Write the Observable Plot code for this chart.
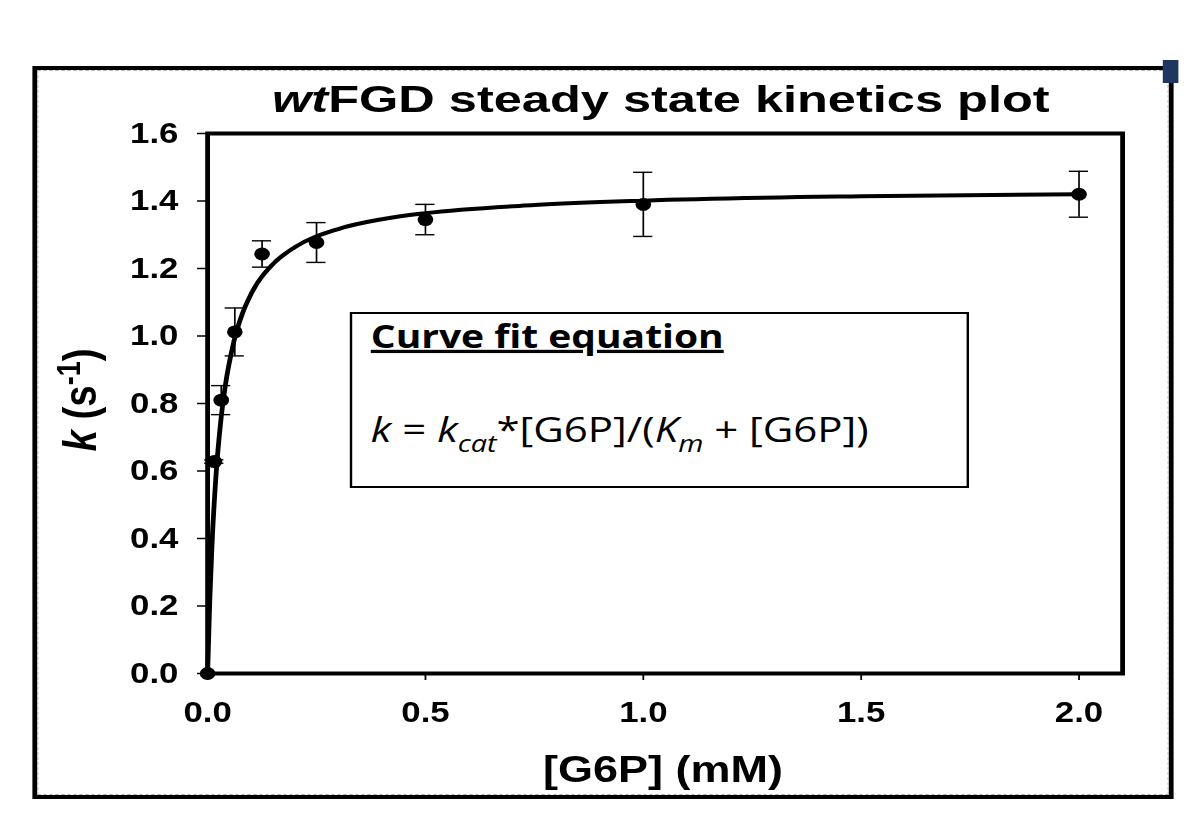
<!DOCTYPE html>
<html>
<head>
<meta charset="utf-8">
<script src="https://cdn.jsdelivr.net/npm/d3@7"></script>
<script src="https://cdn.jsdelivr.net/npm/@observablehq/plot@0.6"></script>
<style>
  html, body { margin: 0; padding: 0; background: #fff; overflow: hidden; }
  #stage { position: relative; width: 1000px; height: 832px; transform: scaleX(1.2); transform-origin: 0 0; }
  #frame { position: absolute; left: 26.7px; top: 66px; width: 951.6px; height: 733px; box-sizing: border-box; border: 4px solid #000; }
  #frame::after { content: ""; position: absolute; left: 0; top: 0; right: 0; bottom: 0; border: 1px dashed #b5b5b5; }
  #navy { position: absolute; left: 969px; top: 60px; width: 12.5px; height: 23px; background: #1f3760; }
  #plot { position: absolute; left: 0; top: 0; }
  #overlay { position: absolute; left: 0; top: 0; pointer-events: none; }
</style>
</head>
<body>
<div id="stage">
  <div id="frame"></div>
  <div id="navy"></div>
  <div id="plot"></div>
  <svg id="overlay" width="1000" height="832" xmlns="http://www.w3.org/2000/svg"></svg>
</div>
<script>
// Measured data points: [G6P] (mM), k (s^-1), error
const conc = [0, 0.0156, 0.0313, 0.0625, 0.125, 0.25, 0.5, 1.0, 2.0];
const rate = [0, 0.628, 0.81, 1.012, 1.243, 1.277, 1.345, 1.39, 1.42];
const err  = [0, 0.005, 0.043, 0.071, 0.039, 0.059, 0.045, 0.095, 0.068];

// Fitted curve
const fitX = [0, 0.005, 0.01, 0.02, 0.03, 0.04, 0.06, 0.08, 0.1, 0.15, 0.2, 0.3, 0.4, 0.5, 0.75, 1.0, 1.5, 2.0];
const fitY = [0, 0.218, 0.379, 0.60, 0.745, 0.847, 0.982, 1.067, 1.125, 1.213, 1.263, 1.317, 1.346, 1.364, 1.388, 1.401, 1.414, 1.420];

const xTicks = [0, 0.5, 1.0, 1.5, 2.0];
const yTicks = [0, 0.2, 0.4, 0.6, 0.8, 1.0, 1.2, 1.4, 1.6];

const points = conc.map((x, i) => ({x, y: rate[i], e: err[i]}));
const bars = points.filter(d => d.e > 0);
const fit = fitX.map((x, i) => ({x, y: fitY[i]}));

const plot = Plot.plot({
  width: 1000,
  height: 832,
  marginLeft: 172.5,
  marginRight: 65,
  marginTop: 133,
  marginBottom: 159,
  style: { fontFamily: "'Liberation Sans', Arial, sans-serif", fontSize: "29px", fontWeight: "bold", background: "transparent", color: "#000" },
  x: { domain: [0, 2.1] },
  y: { domain: [0, 1.6] },
  marks: [
    Plot.axisX({ ticks: xTicks, tickFormat: d3.format(".1f"), tickSize: 7, tickPadding: 21, label: null, strokeWidth: 1.5, fontSize: 29 }),
    Plot.axisY({ ticks: yTicks, tickFormat: d3.format(".1f"), tickSize: 8.3, tickPadding: 16, label: null, strokeWidth: 1.5, fontSize: 29 }),
    Plot.ruleX(bars, { x: "x", y1: d => d.y - d.e, y2: d => d.y + d.e, stroke: "#000", strokeWidth: 1.4 }),
    Plot.ruleY(bars, { y: d => d.y - d.e, x1: "x", x2: "x", insetLeft: -8, insetRight: -8, stroke: "#000", strokeWidth: 1.4 }),
    Plot.ruleY(bars, { y: d => d.y + d.e, x1: "x", x2: "x", insetLeft: -8, insetRight: -8, stroke: "#000", strokeWidth: 1.4 }),
    Plot.line(fit, { x: "x", y: "y", curve: "monotone-x", stroke: "#000", strokeWidth: 4 }),
    Plot.dot(points, { x: "x", y: "y", r: 6.5, fill: "#000", stroke: "none" }),
    Plot.frame({ stroke: "#000", strokeWidth: 4 })
  ]
});
document.getElementById("plot").appendChild(plot);

// Annotations: title, axis labels, equation box
const ov = d3.select("#overlay");
const bold = "'Liberation Sans', Arial, sans-serif";

const title = ov.append("text").attr("x", 226.7).attr("y", 112)
  .attr("font-family", bold).attr("font-weight", "bold").attr("font-size", 37.5)
  .attr("textLength", 648).attr("lengthAdjust", "spacingAndGlyphs");
title.append("tspan").attr("font-style", "italic").text("wt");
title.append("tspan").text("FGD steady state kinetics plot");

ov.append("text").attr("x", 552.5).attr("y", 782).attr("text-anchor", "middle")
  .attr("font-family", bold).attr("font-weight", "bold").attr("font-size", 37.5)
  .text("[G6P] (mM)");

const yl = ov.append("text").attr("transform", "translate(80,400) rotate(-90)").attr("text-anchor", "middle")
  .attr("font-family", bold).attr("font-weight", "bold").attr("font-size", 38.5);
yl.append("tspan").attr("font-style", "italic").text("k");
yl.append("tspan").text(" (s");
yl.append("tspan").attr("font-size", 27).attr("dy", -13).text("-1");
yl.append("tspan").attr("dy", 13).text(")");

ov.append("rect").attr("x", 292.5).attr("y", 313).attr("width", 514).attr("height", 174)
  .attr("fill", "#fff").attr("stroke", "#000").attr("stroke-width", 2);

const sans = "'Open Sans', 'Noto Sans', sans-serif";
ov.append("text").attr("x", 309).attr("y", 348)
  .attr("font-family", sans).attr("font-weight", "bold").attr("font-size", 32.5)
  .attr("text-decoration", "underline").text("Curve fit equation");

const eq = ov.append("text").attr("x", 309).attr("y", 442)
  .attr("font-family", sans).attr("font-size", 35);
eq.append("tspan").attr("font-style", "italic").text("k");
eq.append("tspan").text(" = ");
eq.append("tspan").attr("font-style", "italic").text("k");
eq.append("tspan").attr("font-style", "italic").attr("font-size", 24).attr("dy", 10).text("cat");
eq.append("tspan").attr("dy", -10).text("*[G6P]/(");
eq.append("tspan").attr("font-style", "italic").text("K");
eq.append("tspan").attr("font-style", "italic").attr("font-size", 24).attr("dy", 10).text("m");
eq.append("tspan").attr("dy", -10).text(" + [G6P])");
</script>
</body>
</html>
